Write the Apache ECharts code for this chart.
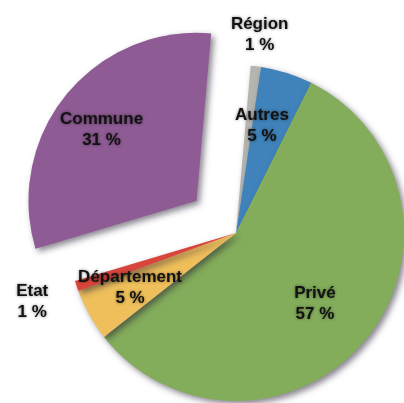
<!DOCTYPE html>
<html>
<head>
<meta charset="utf-8">
<script src="https://cdn.jsdelivr.net/npm/echarts@6/dist/echarts.min.js"></script>
<style>
html,body{margin:0;padding:0;background:#fff;}
#chart{width:404px;height:403px;}
</style>
</head>
<body>
<div id="chart"></div>
<script>
var categories = ['Région', 'Autres', 'Privé', 'Département', 'Etat', 'Commune'];
var values = [1, 5, 57, 5, 1, 31];
var colors = ['#b4b5b1', '#3f83ba', '#83ad5b', '#efbf5b', '#d8453b', '#8e5b94'];
var explodedName = 'Commune';
var outerLabelNames = ['Région', 'Etat'];

var chart = echarts.init(document.getElementById('chart'), null, {renderer: 'canvas'});

var CENTER = [236, 233];
var R = 168;
var START = 85;
var OFFSET = 51;

var labelStyle = {
  fontFamily: 'Liberation Sans, Arial, sans-serif',
  fontWeight: 'bold',
  fontSize: 17,
  lineHeight: 21,
  color: '#121212',
  textShadowColor: 'rgba(0,0,0,0.5)',
  textShadowBlur: 3,
  formatter: function (p) { return p.name + '\n' + p.value + ' %'; }
};

function baseData(labelFilter) {
  return categories.map(function (name, i) {
    var item = {
      name: name,
      value: values[i],
      selected: name === explodedName
    };
    var show = labelFilter(name);
    item.label = Object.assign({show: show, position: 'inside'}, labelStyle);
    return item;
  });
}

var mainData = categories.map(function (name, i) {
  return {
    name: name,
    value: values[i],
    selected: name === explodedName,
    itemStyle: {color: colors[i]}
  };
});

var common = {
  type: 'pie',
  center: CENTER,
  startAngle: START,
  clockwise: true,
  selectedMode: 'multiple',
  selectedOffset: OFFSET,
  avoidLabelOverlap: false,
  animation: false,
  labelLine: {show: false},
  emphasis: {disabled: true},
  minAngle: 0
};

var option = {
  backgroundColor: '#ffffff',
  animation: false,
  series: [
    Object.assign({}, common, {
      name: 'main',
      radius: [0, R],
      label: {show: false},
      itemStyle: {
        borderWidth: 0,
        shadowColor: 'rgba(40,30,50,0.55)',
        shadowBlur: 6,
        shadowOffsetX: 3,
        shadowOffsetY: 3
      },
      data: mainData
    }),
    Object.assign({}, common, {
      name: 'innerLabels',
      radius: [R * 0.3, R],
      silent: true,
      labelLayout: {dx: -8},
      itemStyle: {color: 'rgba(0,0,0,0)', borderWidth: 0},
      data: baseData(function (n) { return outerLabelNames.indexOf(n) < 0; })
    }),
    Object.assign({}, common, {
      name: 'outerLabels',
      radius: [R, R + 58],
      silent: true,
      labelLayout: function (p) {
        return categories[p.dataIndex] === 'Etat' ? {dx: -14, dy: 6} : {};
      },
      itemStyle: {color: 'rgba(0,0,0,0)', borderWidth: 0},
      data: baseData(function (n) { return outerLabelNames.indexOf(n) >= 0; })
    })
  ]
};

chart.setOption(option);
</script>
</body>
</html>
